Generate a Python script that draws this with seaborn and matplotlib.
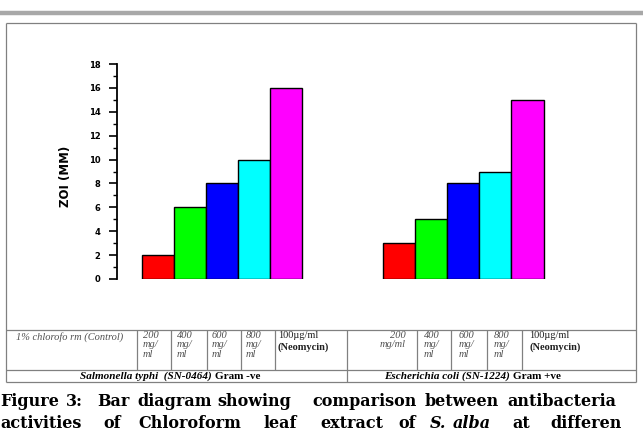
import matplotlib
matplotlib.use('Agg')
import seaborn as sns
import matplotlib.pyplot as plt
import pandas as pd

# data
organisms = ['Salmonella typhi', 'Escherichia coli']
treatments = ['200 mg/ml', '400 mg/ml', '600 mg/ml', '800 mg/ml', '100µg/ml Neomycin']
zoi_salmonella = [2, 6, 8, 10, 16]
zoi_ecoli = [3, 5, 8, 9, 15]
bar_colors = ['#ff0000', '#00ff00', '#0000ff', '#00ffff', '#ff00ff']
yticks = [0, 2, 4, 6, 8, 10, 12, 14, 16, 18]

df = pd.DataFrame({
    'organism': [organisms[0]] * 5 + [organisms[1]] * 5,
    'treatment': treatments * 2,
    'zoi': zoi_salmonella + zoi_ecoli,
})

sns.set_style('white', {'text.color': 'black', 'ytick.color': 'black'})
fig = plt.figure(figsize=(6.43, 4.32), dpi=100)

# overlay in pixel coordinates for the table frame, labels and caption
ov = fig.add_axes([0, 0, 1, 1], zorder=0)
ov.set_xlim(0, 643)
ov.set_ylim(432, 0)
ov.axis('off')

def hl(y, x0, x1, c='#808080', lw=0.9):
    ov.plot([x0, x1], [y, y], color=c, lw=lw, solid_capstyle='butt')

def vl(x, y0, y1, c='#808080', lw=0.9):
    ov.plot([x, x], [y0, y1], color=c, lw=lw, solid_capstyle='butt')

hl(13, 0, 643, c='#a8a8a8', lw=3.2)
hl(23, 6, 636)
hl(330, 6, 636)
hl(370, 6, 636)
hl(382, 6, 636)
vl(6, 23, 382)
vl(636, 23, 382)
for x in [137, 171, 207, 241, 275, 347, 417, 451, 487, 522]:
    vl(x, 330, 370)
vl(347, 370, 382)

serif = 'Liberation Serif'
gray = '#505050'
ov.text(16, 332, '1% chlorofo rm (Control)', family=serif, style='italic',
        fontsize=7.5, color=gray, va='top')
for x, s in zip([143, 177, 212, 246], ['200', '400', '600', '800']):
    ov.text(x, 331, s + '\nmg/\nml', family=serif, style='italic', fontsize=7.5,
            color=gray, va='top', linespacing=1.05)
for x, s in zip([424, 459, 494], ['400', '600', '800']):
    ov.text(x, 331, s + '\nmg/\nml', family=serif, style='italic', fontsize=7.5,
            color=gray, va='top', linespacing=1.05)
ov.text(406, 331, '200\nmg/ml', family=serif, style='italic', fontsize=7.5,
        color=gray, va='top', ha='right', multialignment='right', linespacing=1.05)
for x in [278, 529]:
    ov.text(x, 331, '100µg/ml', family=serif, fontsize=7.5, color='#202020', va='top')
    ov.text(x, 342, '(Neomycin)', family=serif, fontsize=7.5, weight='bold',
            color='#202020', va='top')

ov.text(212, 376.5, 'Salmonella typhi  (SN-0464)', family=serif, style='italic',
        weight='bold', fontsize=8, ha='right', va='center')
ov.text(215, 376.5, 'Gram -ve', family=serif, weight='bold', fontsize=8,
        ha='left', va='center')
ov.text(510, 376.5, 'Escherichia coli (SN-1224)', family=serif, style='italic',
        weight='bold', fontsize=8, ha='right', va='center')
ov.text(513, 376.5, 'Gram +ve', family=serif, weight='bold', fontsize=8,
        ha='left', va='center')

# caption, justified word by word
cap1 = 'Figure 3: Bar diagram showing comparison between antibacteria'.split()
cap1_x = [0, 66, 97, 137, 217, 312, 425, 507]
cap2 = 'activities of Chloroform leaf extract of S. alba at differen'.split()
cap2_x = [0, 103, 138, 263, 320, 398, 430, 453, 512, 550]
for w, x in zip(cap1, cap1_x):
    ov.text(x, 402, w, family='DejaVu Serif', weight='bold', fontsize=11.5,
            va='center', ha='left', color='black')
for w, x in zip(cap2, cap2_x):
    st = 'italic' if w in ('S.', 'alba') else 'normal'
    ov.text(x, 423, w, family='DejaVu Serif', weight='bold', style=st,
            fontsize=11.5, va='center', ha='left', color='black')

ov.text(65, 176, 'ZOI (MM)', rotation=90, fontsize=8.5, weight='heavy',
        ha='center', va='center', color='black')

# bar chart
ax = fig.add_axes([117 / 643, 1 - 279 / 432, (608 - 117) / 643, (279 - 64) / 432], zorder=1)
ax.patch.set_alpha(0)
sns.barplot(data=df, x='organism', y='zoi', hue='treatment', palette=bar_colors,
            saturation=1, width=0.666, edgecolor='black', linewidth=1,
            legend=False, ax=ax)
ax.set_xlim(-0.436, 1.6)
ax.set_ylim(0, 18)
ax.set_yticks(yticks)
ax.set_yticks(range(1, 18, 2), minor=True)
ax.set_yticklabels([str(v) for v in yticks], fontsize=6, weight='bold', color='black')
ax.tick_params(axis='y', which='major', length=6, width=1.2, direction='out', left=True, pad=6)
ax.tick_params(axis='y', which='minor', length=3, width=1, direction='out', left=True)
ax.set_xticks([])
ax.set_xlabel('')
ax.set_ylabel('')
for s in ['top', 'right', 'bottom']:
    ax.spines[s].set_visible(False)
ax.spines['left'].set_color('black')
ax.spines['left'].set_linewidth(1.3)

fig.savefig('out.png', dpi=100)
